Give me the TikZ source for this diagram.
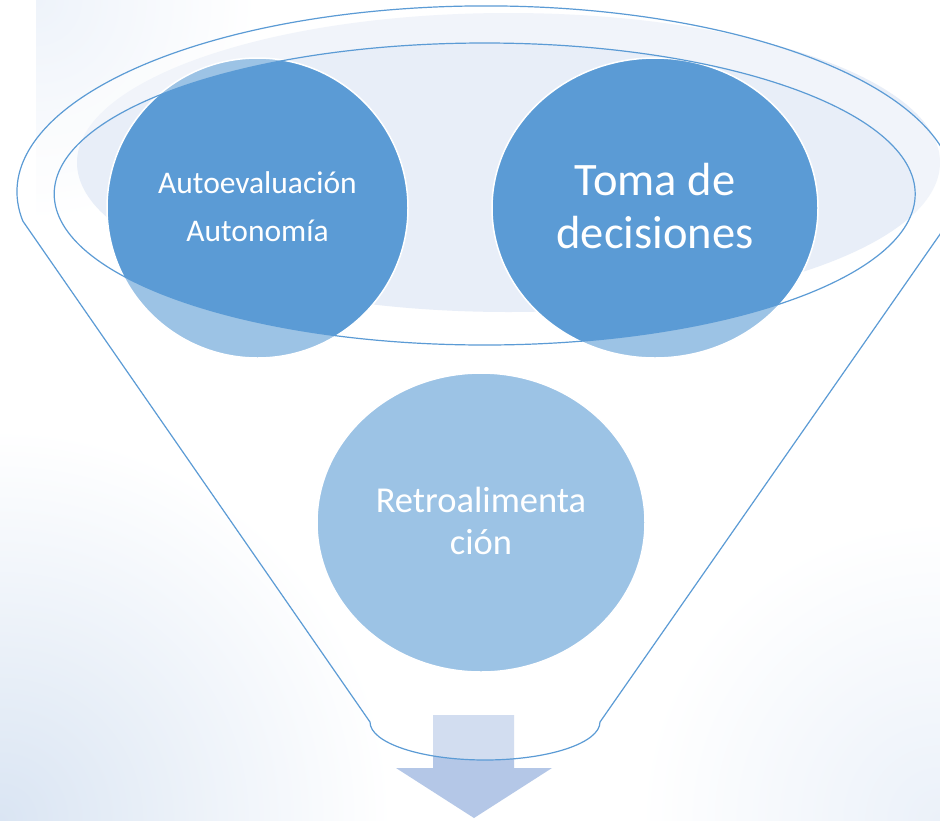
\documentclass[tikz,border=0pt]{standalone}
\usepackage{fontspec}
\setmainfont{Carlito}
\usetikzlibrary{shapes.geometric}
\definecolor{accent}{HTML}{5B9BD5}
\definecolor{rimfill}{HTML}{E8EEF8}
\definecolor{arrowfill}{HTML}{B4C7E7}
\definecolor{bgtint}{HTML}{DAE5F3}
\definecolor{bgtintb}{HTML}{EBF1F9}
\definecolor{bgtintc}{HTML}{EEF3FA}
\pgfdeclareradialshading{glowbl}{\pgfpoint{0bp}{0bp}}{color(0bp)=(bgtint); color(390bp)=(white)}
\pgfdeclareradialshading{glowbr}{\pgfpoint{0bp}{0bp}}{color(0bp)=(bgtintb); color(300bp)=(white)}
\pgfdeclareradialshading{glowtl}{\pgfpoint{0bp}{0bp}}{color(0bp)=(bgtintc); color(220bp)=(white)}
\begin{document}
\begin{tikzpicture}[x=1pt,y=-1pt,
  bubble/.style={ellipse, fill=accent, draw=white, line width=1.5pt, inner sep=0pt},
  lbl/.style={text=white, anchor=base, inner sep=0pt},
  glow/.style={inner sep=0pt, outer sep=0pt},
  rim/.style={draw=accent, line width=1.2pt, line join=miter}]
\useasboundingbox (0,0) rectangle (940,820);
\clip (0,0) rectangle (940,820);
\fill[white] (0,0) rectangle (940,820);
% faint background tints (corners)
\node[glow] (bgbl) at (0,820) {\pgfuseshading{glowbl}};
\node[glow] (bgbr) at (940,820) {\pgfuseshading{glowbr}};
\begin{scope}
  \clip (36,0) rectangle (260,225);
  \node[glow] (bgtl) at (36,0) {\pgfuseshading{glowtl}};
\end{scope}
% light ellipse behind the circles
\fill[rimfill] (508.5,162.5) ellipse [x radius=431.5, y radius=149.5];
% circles
\node[bubble, minimum width=301pt, minimum height=300pt] (auto) at (257.5,208) {};
\node[bubble, minimum width=326pt, minimum height=300pt] (toma) at (655,208) {};
\node[bubble, minimum width=328pt, minimum height=299pt] (retro) at (481,522.5) {};
% arrow
\fill[arrowfill] (433,715) -- (514,715) -- (514,768) -- (552,768) -- (474,818) -- (396,768) -- (433,768) -- cycle;
% translucent funnel body (with opening)
\fill[white, fill opacity=0.4, even odd rule]
  (22.8,221) arc[start angle=171, end angle=369, x radius=469, y radius=186]
  -- (600,722) arc[start angle=0, end angle=180, x radius=115, y radius=38] -- cycle
  (484.7,194) ellipse [x radius=430.5, y radius=151];
% funnel outlines
\draw[rim] (22.8,221) arc[start angle=171, end angle=369, x radius=469, y radius=186]
  -- (600,722) arc[start angle=0, end angle=180, x radius=115, y radius=38] -- cycle;
\draw[rim] (484.7,194) ellipse [x radius=430.5, y radius=151];
% labels
\node[lbl, font=\fontsize{31.5pt}{38pt}\selectfont] (auto1) at (257.5,193.3) {Autoevaluación};
\node[lbl, font=\fontsize{31.5pt}{38pt}\selectfont] (auto2) at (257.5,241.7) {Autonomía};
\node[lbl, font=\fontsize{46.5pt}{56pt}\selectfont] (toma1) at (655,195) {Toma de};
\node[lbl, font=\fontsize{46.5pt}{56pt}\selectfont] (toma2) at (655,248.3) {decisiones};
\node[lbl, font=\fontsize{36.5pt}{44pt}\selectfont] (retro1) at (481,512.3) {Retroalimenta};
\node[lbl, font=\fontsize{36.5pt}{44pt}\selectfont] (retro2) at (481,554) {ción};
\end{tikzpicture}
\end{document}
